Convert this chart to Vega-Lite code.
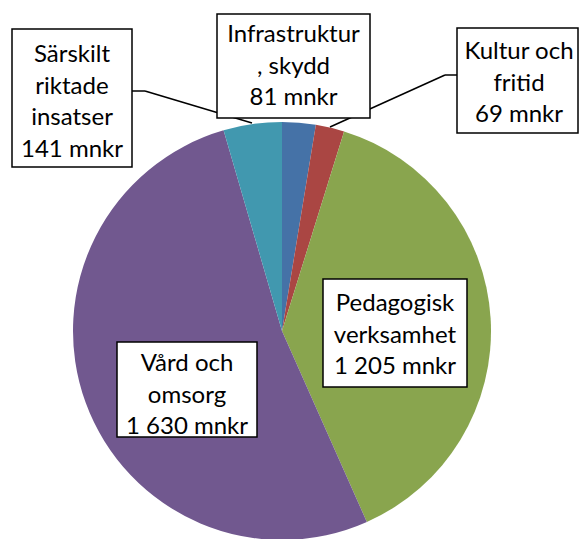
{
  "$schema": "https://vega.github.io/schema/vega-lite/v6.json",
  "width": 579,
  "height": 539,
  "autosize": {"type": "none"},
  "padding": 0,
  "background": "white",
  "config": {"view": {"stroke": null}},
  "datasets": {
    "slices": [
      {"name": "Infrastruktur, skydd", "value": 81, "ord": 1},
      {"name": "Kultur och fritid", "value": 69, "ord": 2},
      {"name": "Pedagogisk verksamhet", "value": 1205, "ord": 3},
      {"name": "Vård och omsorg", "value": 1630, "ord": 4},
      {"name": "Särskilt riktade insatser", "value": 141, "ord": 5}
    ],
    "labels": [
      {"text": ["Särskilt", "riktade", "insatser", "141 mnkr"], "x1": -270, "x2": -150, "y1": 302, "y2": 164, "cx": -210, "cy": 276},
      {"text": ["Infrastruktur", ", skydd", "81 mnkr"], "x1": -65, "x2": 88, "y1": 317, "y2": 213, "cx": 11.5, "cy": 296},
      {"text": ["Kultur och", "fritid", "69 mnkr"], "x1": 175, "x2": 296, "y1": 303, "y2": 198, "cx": 237, "cy": 279},
      {"text": ["Vård och", "omsorg", "1 630 mnkr"], "x1": -165, "x2": -25, "y1": -11, "y2": -106, "cx": -95, "cy": -33},
      {"text": ["Pedagogisk", "verksamhet", "1 205 mnkr"], "x1": 41, "x2": 185, "y1": 52, "y2": -56, "cx": 113, "cy": 27}
    ],
    "leaders": [
      {"xa": -150, "ya": 240, "xb": -137, "yb": 240},
      {"xa": -137, "ya": 240, "xb": -30, "yb": 208},
      {"xa": 175, "ya": 256, "xb": 163, "yb": 256},
      {"xa": 163, "ya": 256, "xb": 48, "yb": 204}
    ]
  },
  "resolve": {"scale": {"x": "shared", "y": "shared"}},
  "layer": [
    {
      "data": {"name": "slices"},
      "mark": {"type": "arc", "outerRadius": 209, "stroke": null},
      "encoding": {
        "x": {"datum": 0, "type": "quantitative", "scale": {"domain": [-282, 297], "nice": false, "zero": false}, "axis": null},
        "y": {"datum": 0, "type": "quantitative", "scale": {"domain": [-208, 331], "nice": false, "zero": false}, "axis": null},
        "theta": {"field": "value", "type": "quantitative", "stack": true},
        "order": {"field": "ord", "type": "quantitative"},
        "color": {
          "field": "name", "type": "nominal", "legend": null,
          "scale": {
            "domain": ["Infrastruktur, skydd", "Kultur och fritid", "Pedagogisk verksamhet", "Vård och omsorg", "Särskilt riktade insatser"],
            "range": ["#4572A7", "#AA4643", "#89A54E", "#71588F", "#4198AF"]
          }
        }
      }
    },
    {
      "data": {"name": "leaders"},
      "mark": {"type": "rule", "color": "black", "strokeWidth": 1.5},
      "encoding": {
        "x": {"field": "xa", "type": "quantitative"},
        "y": {"field": "ya", "type": "quantitative"},
        "x2": {"field": "xb"},
        "y2": {"field": "yb"}
      }
    },
    {
      "data": {"name": "labels"},
      "mark": {"type": "rect", "fill": "white", "stroke": "black", "strokeWidth": 1.5},
      "encoding": {
        "x": {"field": "x1", "type": "quantitative"},
        "x2": {"field": "x2"},
        "y": {"field": "y1", "type": "quantitative"},
        "y2": {"field": "y2"}
      }
    },
    {
      "data": {"name": "labels"},
      "mark": {"type": "text", "font": "Lato", "fontSize": 24, "lineHeight": 31.5, "align": "center", "baseline": "middle", "color": "black"},
      "encoding": {
        "x": {"field": "cx", "type": "quantitative"},
        "y": {"field": "cy", "type": "quantitative"},
        "text": {"field": "text"}
      }
    }
  ]
}
